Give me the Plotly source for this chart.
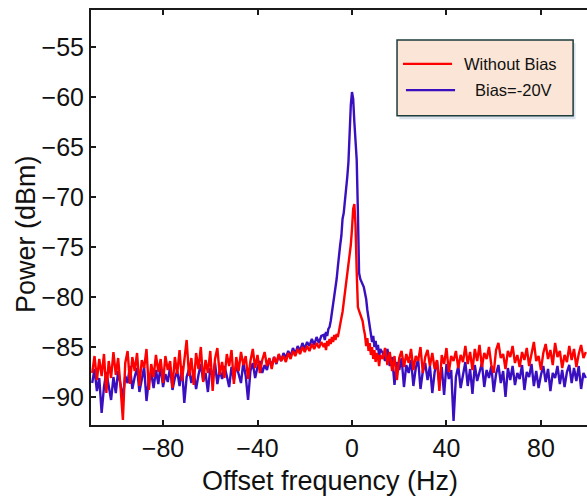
import numpy as np
import plotly.graph_objects as go

# Offset-frequency grid (Hz): 1 Hz steps in the wings, 0.5 Hz around the carrier
freq_left = np.arange(-110, -12, 1.0)
freq_center = np.arange(-12, 12.5, 0.5)
freq_right = np.arange(13, 100, 1.0)

# Spectrum with bias = -20 V (dBm)
bias_left = [
    -88.6, -87.2, -89.4, -88.1, -91.6, -89.0, -87.5, -88.9, -90.3, -88.0,
    -89.6, -87.4, -88.8, -90.1, -87.9, -88.6, -86.9, -89.2, -88.0, -87.1,
    -89.5, -88.3, -87.0, -90.4, -88.2, -87.6, -89.1, -87.3, -88.7, -86.8,
    -89.0, -87.7, -88.5, -87.0, -89.3, -88.1, -87.4, -88.9, -86.9, -90.6,
    -88.0, -87.2, -88.6, -87.5, -89.2, -87.8, -86.7, -88.4, -87.6, -89.5,
    -87.1, -88.0, -86.6, -88.7, -87.3, -88.2, -86.9, -87.9, -89.0, -87.0,
    -88.3, -86.8, -87.7, -88.6, -86.5, -87.9, -90.3, -87.4, -86.6, -88.1,
    -87.0, -86.4, -87.6, -86.8, -87.3, -86.2, -86.9, -86.0, -86.7, -85.8,
    -86.4, -85.6, -86.1, -85.4, -85.9, -85.1, -85.7, -84.9, -85.4, -84.6,
    -85.2, -84.5, -84.9, -84.2, -84.8, -84.0, -84.6, -83.9,
]
bias_center = [
    -83.8, -84.3, -83.5, -83.9, -83.2, -83.0, -82.4, -81.6, -80.5, -79.6,
    -78.9, -78.2, -77.0, -75.6, -74.8, -73.9, -72.2, -71.6, -70.6, -69.4,
    -68.0, -66.5, -63.5, -60.8, -59.5, -60.2, -62.5, -64.8, -66.3, -71.5,
    -77.6, -78.2, -78.5, -78.7, -79.0, -79.6, -80.2, -81.3, -82.2, -83.0,
    -83.6, -84.5, -83.9, -85.0, -84.4, -85.3, -84.8, -85.9, -85.2,
]
bias_right = [
    -85.6, -86.4, -85.2, -86.9, -86.0, -88.8, -86.5, -87.3, -86.1, -89.0,
    -86.8, -87.6, -86.3, -88.9, -87.1, -86.2, -89.2, -87.4, -86.6, -88.3,
    -86.9, -89.6, -87.5, -86.4, -88.7, -87.0, -89.8, -86.7, -88.2, -87.3,
    -92.4, -88.0, -86.9, -89.1, -87.6, -86.5, -88.9, -87.2, -89.7, -86.8,
    -88.4, -87.5, -86.6, -89.0, -87.3, -88.1, -86.9, -89.5, -87.7, -86.8,
    -88.6, -87.4, -90.0, -87.1, -88.3, -86.9, -88.8, -87.6, -88.2, -86.8,
    -89.3, -87.5, -88.0, -86.7, -88.9, -87.4, -89.1, -87.8, -86.9, -88.5,
    -87.2, -89.4, -87.6, -88.1, -86.9, -88.7, -87.3, -89.0, -87.5, -86.8,
    -88.6, -87.1, -88.4, -86.9, -89.2, -87.6, -88.1,
]

# Spectrum without bias (dBm)
nobias_left = [
    -87.6, -85.9, -88.3, -86.2, -87.9, -85.7, -89.6, -86.4, -88.1, -85.5,
    -87.8, -86.1, -89.0, -92.3, -86.6, -85.4, -88.7, -86.0, -87.4, -85.6,
    -88.9, -86.3, -87.1, -85.2, -89.3, -86.7, -88.0, -85.8, -87.5, -86.2,
    -88.6, -85.9, -87.3, -86.4, -89.1, -86.0, -87.7, -85.3, -88.4, -86.6,
    -84.3, -87.9, -86.1, -88.8, -85.6, -87.2, -85.0, -88.5, -86.3, -87.6,
    -85.4, -89.4, -86.2, -85.1, -87.8, -86.5, -88.1, -85.7, -86.9, -85.3,
    -88.7, -86.0, -87.4, -85.5, -86.8, -85.9, -88.2, -86.4, -85.2, -87.1,
    -85.8, -87.6, -86.3, -85.5, -86.9, -86.1, -87.2, -86.0, -86.6, -85.7,
    -86.4, -85.9, -86.5, -85.6, -86.2, -85.4, -85.9, -85.2, -85.7, -85.0,
    -85.5, -84.9, -85.4, -84.7, -85.2, -84.6, -85.1, -84.5,
]
nobias_center = [
    -85.0, -84.6, -85.3, -84.4, -84.9, -84.2, -84.7, -84.0, -84.5, -83.8,
    -84.3, -83.7, -84.0, -83.4, -82.9, -82.1, -81.5, -80.6, -79.6, -78.6,
    -77.6, -76.8, -75.9, -74.8, -73.2, -71.2, -70.7, -72.8, -77.5, -81.0,
    -81.4, -81.7, -82.0, -82.4, -83.2, -83.8, -84.9, -84.1, -85.4, -84.6,
    -85.8, -85.0, -86.2, -85.3, -86.5, -85.6, -86.0, -86.9, -85.8,
]
nobias_right = [
    -86.2, -85.1, -86.8, -85.5, -87.4, -85.9, -88.3, -86.1, -85.4, -87.0,
    -85.7, -86.6, -85.2, -87.3, -85.9, -86.4, -85.0, -87.6, -86.0, -85.3,
    -86.9, -85.6, -87.2, -86.3, -89.4, -85.8, -86.7, -85.1, -87.5, -85.9,
    -86.4, -85.4, -87.1, -85.8, -86.5, -84.9, -86.7, -85.5, -87.3, -85.2,
    -86.4, -84.8, -87.0, -85.6, -86.2, -85.0, -86.8, -87.6, -85.3, -84.6,
    -86.1, -85.7, -87.2, -85.4, -86.0, -84.9, -86.6, -85.8, -87.0, -85.5,
    -86.3, -85.1, -86.9, -85.7, -84.5, -86.4, -85.9, -87.3, -85.6, -84.7,
    -86.2, -85.3, -86.8, -84.6, -86.0, -85.4, -87.1, -85.8, -86.5, -84.9,
    -86.3, -85.2, -87.0, -85.7, -84.8, -86.1, -85.5,
]

freq = np.concatenate([freq_left, freq_center, freq_right])
power_bias = bias_left + bias_center + bias_right
power_nobias = nobias_left + nobias_center + nobias_right

x_ticks = [-80, -40, 0, 40, 80]
y_ticks = [-90, -85, -80, -75, -70, -65, -60, -55]

series_names = ["Without Bias", "Bias=-20V"]

RED = "#ff0000"
BLUE = "#3a0fbf"
INK = "#111111"
FONT = "Liberation Sans, Arial, sans-serif"

fig = go.Figure()
fig.add_trace(go.Scatter(
    x=freq, y=power_bias, mode="lines", name=series_names[1],
    line=dict(color=BLUE, width=2.4), showlegend=False,
))
fig.add_trace(go.Scatter(
    x=freq, y=power_nobias, mode="lines", name=series_names[0],
    line=dict(color=RED, width=2.4), showlegend=False,
))

axis_common = dict(
    showgrid=False, zeroline=False, showline=True, linecolor="#1a1a1a",
    linewidth=2, ticks="inside", ticklen=5, tickwidth=1.5, tickcolor="#1a1a1a",
    tickfont=dict(family=FONT, size=25, color=INK),
)

fig.update_xaxes(range=[-110.5, 99.5], tickvals=x_ticks, mirror="ticks",
                 **axis_common)
fig.update_yaxes(range=[-92.8, -51.3], tickvals=y_ticks, mirror=False,
                 **axis_common)

# Boxed key in the upper right: shadow, peach panel, line samples
key_box = dict(x0=0.617, x1=0.972, y0=0.745, y1=0.928)
shapes = [
    dict(type="rect", xref="paper", yref="paper", layer="above",
         x0=key_box["x0"] + 0.005, x1=key_box["x1"] + 0.005,
         y0=key_box["y0"] - 0.008, y1=key_box["y1"] - 0.008,
         fillcolor="rgba(170,190,210,0.45)", line=dict(width=0)),
    dict(type="rect", xref="paper", yref="paper", layer="above",
         fillcolor="#fbe5d6", line=dict(color="#1e3b3b", width=1.5),
         **key_box),
    dict(type="line", xref="paper", yref="paper", layer="above",
         x0=0.629, x1=0.728, y0=0.870, y1=0.870,
         line=dict(color=RED, width=2.2)),
    dict(type="line", xref="paper", yref="paper", layer="above",
         x0=0.635, x1=0.734, y0=0.807, y1=0.807,
         line=dict(color=BLUE, width=2.2)),
]

annotations = [
    dict(text=series_names[0], xref="paper", yref="paper", x=0.748, y=0.870,
         xanchor="left", yanchor="middle", showarrow=False,
         font=dict(family=FONT, size=16.5, color=INK)),
    dict(text=series_names[1], xref="paper", yref="paper", x=0.770, y=0.807,
         xanchor="left", yanchor="middle", showarrow=False,
         font=dict(family=FONT, size=16.5, color=INK)),
    dict(text="Offset frequency (Hz)", xref="paper", yref="paper",
         x=0.482, y=-0.135, xanchor="center", yanchor="middle",
         showarrow=False, font=dict(family=FONT, size=27, color=INK)),
    dict(text="Power (dBm)", xref="paper", yref="paper",
         x=-0.131, y=0.46, xanchor="center", yanchor="middle",
         textangle=-90, showarrow=False,
         font=dict(family=FONT, size=27, color=INK)),
]

fig.update_layout(
    width=587, height=498,
    margin=dict(l=91, r=0, t=10, b=73),
    paper_bgcolor="white", plot_bgcolor="white",
    font=dict(family=FONT, color=INK),
    showlegend=False,
    shapes=shapes,
    annotations=annotations,
)

fig.write_html("out.html")
